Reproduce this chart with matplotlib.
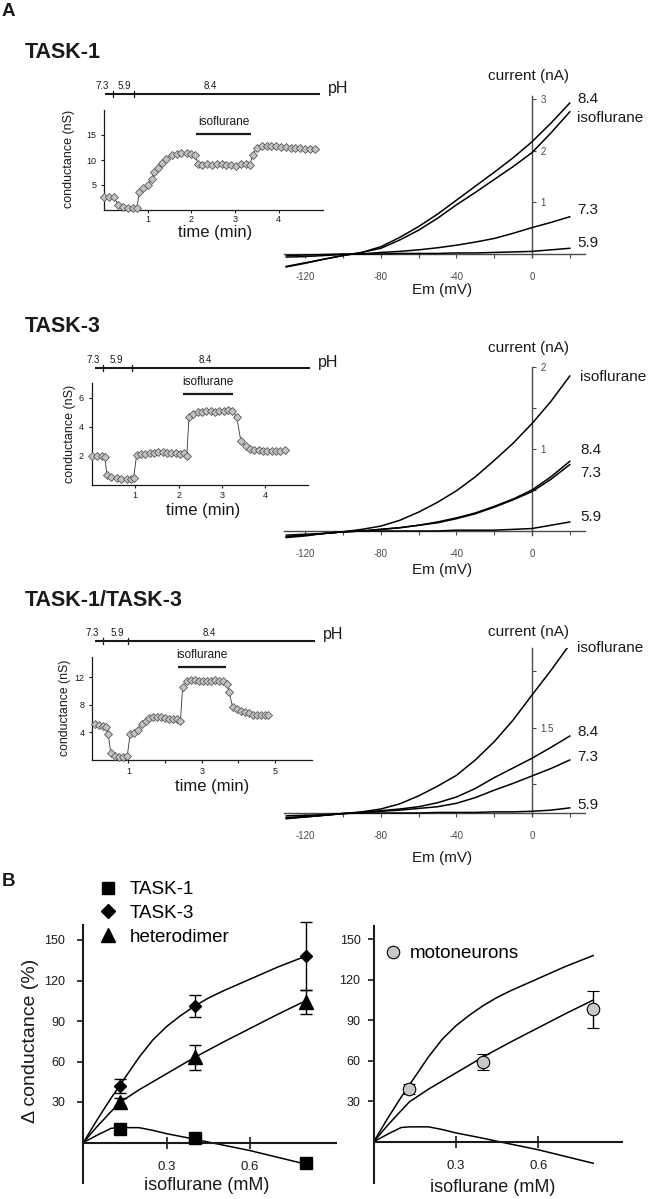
import matplotlib
matplotlib.use('Agg')
import matplotlib.pyplot as plt
from matplotlib import transforms

plt.rcParams['font.family'] = ['Liberation Sans', 'DejaVu Sans']
plt.rcParams['axes.unicode_minus'] = False

# ======================= data =======================
ph_labels = ['7.3', '5.9', '8.4']

# --- TASK-1 conductance time course (min, nS)
t1_time = [0.00, 0.11, 0.22, 0.33, 0.44, 0.55, 0.66, 0.75, 0.81, 0.90,
           1.00, 1.09, 1.15, 1.24, 1.32, 1.43, 1.55, 1.66, 1.77, 1.89,
           2.00, 2.08, 2.15, 2.25, 2.36, 2.47, 2.58, 2.69, 2.80, 2.91,
           3.02, 3.13, 3.24, 3.34, 3.40, 3.50, 3.61, 3.72, 3.83, 3.94,
           4.05, 4.16, 4.27, 4.38, 4.49, 4.60, 4.71, 4.83]
t1_g = [2.6, 2.6, 2.6, 1.0, 0.6, 0.5, 0.5, 0.4, 3.6, 4.4,
        5.1, 6.2, 7.6, 8.5, 9.5, 10.3, 11.0, 11.3, 11.5, 11.5,
        11.3, 11.0, 9.3, 9.0, 9.2, 9.1, 9.3, 9.2, 9.0, 9.1,
        8.9, 9.2, 9.3, 9.0, 11.0, 12.5, 12.9, 12.8, 12.9, 12.8,
        12.7, 12.6, 12.5, 12.5, 12.4, 12.3, 12.3, 12.2]
t1_ph_span = [0.02, 4.94]
t1_ph_switch = [0.21, 0.69]
t1_iso = [2.10, 3.37]

# --- TASK-3
t3_time = [0.00, 0.11, 0.22, 0.30, 0.34, 0.45, 0.57, 0.68, 0.80, 0.91,
           0.96, 1.03, 1.13, 1.23, 1.33, 1.43, 1.53, 1.63, 1.73, 1.83,
           1.93, 2.03, 2.13, 2.19, 2.24, 2.34, 2.44, 2.54, 2.64, 2.74,
           2.84, 2.94, 3.04, 3.14, 3.23, 3.34, 3.44, 3.55, 3.65, 3.75,
           3.85, 3.95, 4.05, 4.15, 4.25, 4.35, 4.45]
t3_g = [2.0, 2.0, 2.0, 1.95, 0.7, 0.55, 0.45, 0.4, 0.4, 0.4,
        0.45, 2.05, 2.1, 2.15, 2.2, 2.2, 2.25, 2.25, 2.2, 2.2,
        2.2, 2.15, 2.2, 2.0, 4.7, 4.9, 5.0, 5.0, 5.05, 5.05,
        5.0, 5.05, 5.1, 5.15, 5.1, 4.7, 3.0, 2.65, 2.45, 2.4,
        2.4, 2.35, 2.35, 2.35, 2.35, 2.35, 2.37]
t3_ph_span = [0.07, 5.03]
t3_ph_switch = [0.25, 0.92]
t3_iso = [2.10, 3.26]

# --- TASK-1/TASK-3
t13_time = [0.09, 0.20, 0.31, 0.40, 0.45, 0.52, 0.63, 0.74, 0.85, 0.97,
            1.05, 1.15, 1.26, 1.37, 1.47, 1.57, 1.68, 1.79, 1.90, 2.01,
            2.12, 2.23, 2.33, 2.42, 2.48, 2.59, 2.70, 2.81, 2.92, 3.03,
            3.14, 3.25, 3.36, 3.47, 3.57, 3.68, 3.75, 3.84, 3.95, 4.06,
            4.17, 4.28, 4.39, 4.50, 4.61, 4.72, 4.81]
t13_g = [5.3, 5.1, 5.0, 4.8, 3.8, 1.0, 0.6, 0.4, 0.5, 0.6,
         3.8, 3.9, 4.4, 5.2, 5.6, 6.1, 6.2, 6.3, 6.2, 6.1,
         6.0, 5.9, 5.9, 5.6, 10.6, 11.4, 11.6, 11.6, 11.5, 11.4,
         11.5, 11.5, 11.6, 11.5, 11.5, 11.0, 9.9, 7.7, 7.4, 7.1,
         6.9, 6.8, 6.6, 6.5, 6.5, 6.6, 6.5]
t13_ph_span = [0.09, 6.08]
t13_ph_switch = [0.32, 1.00]
t13_iso = [2.34, 3.65]

# --- I-V relations: membrane potential (mV) and current (nA)
em_mv = [-130, -120, -110, -100, -90, -80, -70, -60, -50, -40,
         -30, -20, -10, 0, 10, 20]
iv_names_1 = ['8.4', 'isoflurane', '7.3', '5.9']
iv1_84 = [-0.25, -0.18, -0.10, -0.03, 0.03, 0.14, 0.32, 0.53, 0.77, 1.04,
          1.31, 1.58, 1.86, 2.17, 2.53, 2.92]
iv1_iso = [-0.24, -0.17, -0.10, -0.03, 0.03, 0.11, 0.27, 0.46, 0.69, 0.95,
           1.19, 1.44, 1.69, 1.96, 2.34, 2.75]
iv1_73 = [-0.06, -0.05, -0.03, -0.01, 0.00, 0.03, 0.05, 0.08, 0.12, 0.17,
          0.23, 0.30, 0.40, 0.51, 0.61, 0.72]
iv1_59 = [-0.03, -0.02, -0.01, 0.00, 0.00, 0.00, 0.01, 0.01, 0.01, 0.02,
          0.02, 0.03, 0.04, 0.05, 0.08, 0.11]

iv_names_3 = ['isoflurane', '8.4', '7.3', '5.9']
iv3_iso = [-0.08, -0.06, -0.03, -0.01, 0.02, 0.06, 0.13, 0.23, 0.35, 0.49,
           0.66, 0.86, 1.07, 1.31, 1.58, 1.89]
iv3_84 = [-0.07, -0.05, -0.03, -0.01, 0.00, 0.02, 0.04, 0.07, 0.11, 0.16,
          0.22, 0.30, 0.39, 0.50, 0.66, 0.85]
iv3_73 = [-0.07, -0.05, -0.03, -0.01, 0.00, 0.02, 0.04, 0.07, 0.10, 0.15,
          0.21, 0.29, 0.38, 0.48, 0.63, 0.81]
iv3_59 = [-0.05, -0.04, -0.03, -0.01, 0.00, 0.00, 0.00, 0.00, 0.00, 0.01,
          0.01, 0.01, 0.02, 0.03, 0.07, 0.11]

iv_names_13 = ['isoflurane', '8.4', '7.3', '5.9']
iv13_iso = [-0.10, -0.07, -0.04, -0.01, 0.02, 0.07, 0.16, 0.30, 0.47, 0.66,
            0.93, 1.25, 1.63, 2.07, 2.50, 2.96]
iv13_84 = [-0.09, -0.07, -0.04, -0.01, 0.01, 0.04, 0.07, 0.11, 0.18, 0.28,
           0.43, 0.62, 0.79, 0.96, 1.15, 1.35]
iv13_73 = [-0.08, -0.06, -0.04, -0.01, 0.01, 0.03, 0.05, 0.08, 0.11, 0.17,
           0.27, 0.40, 0.52, 0.65, 0.78, 0.93]
iv13_59 = [-0.05, -0.04, -0.03, -0.01, 0.00, 0.00, 0.00, 0.00, 0.01, 0.01,
           0.01, 0.02, 0.02, 0.03, 0.05, 0.09]

# --- Panel B: dose response (isoflurane mM, % change in conductance)
conc_mM = [0.13, 0.40, 0.80]
task1_pct = [10, 3.5, -15]
task1_err = [2, 3, 2]
task3_pct = [42, 101, 138]
task3_err = [5, 8, 25]
het_pct = [30, 63, 104]
het_err = [3, 9, 9]
moto_pct = [39, 59, 98]
moto_err = [4, 6, 13.5]

fit_conc = [0, 0.05, 0.10, 0.13, 0.20, 0.25, 0.30, 0.35, 0.40, 0.45, 0.50, 0.60, 0.70, 0.80]
fit_task3 = [0, 17, 33, 42, 63, 76, 86, 94, 101, 107, 112, 121, 130, 138]
fit_het = [0, 12, 23, 29.5, 39, 45, 51, 57, 63, 68.5, 74, 84.5, 95, 105]
fit_task1 = [0, 5.5, 10.5, 11, 11, 9, 6.5, 4.5, 2.5, 0.3, -1.8, -6, -11, -16]

# ======================= figure =======================
W, H = 648, 1199
fig = plt.figure(figsize=(W / 100, H / 100), dpi=100)
PX = transforms.Affine2D().scale(1.0 / W, -1.0 / H).translate(0, 1) + fig.transFigure


def add_ax(x0, x1, xlim, y0, y1, ylim):
    ax = fig.add_axes([x0 / W, 1 - y1 / H, (x1 - x0) / W, (y1 - y0) / H])
    ax.set_xlim(xlim)
    ax.set_ylim(ylim)
    ax.patch.set_visible(False)
    return ax


def ptext(x, y, s, size, **kw):
    kw.setdefault('ha', 'left')
    kw.setdefault('va', 'center')
    return fig.text(x, y, s, fontsize=size, transform=PX, **kw)


INK = '#1a1a1a'


def inset(ax, t, g, xticks, xlabels, yticks, xpad, ypad):
    for s in ['top', 'right']:
        ax.spines[s].set_visible(False)
    for s in ['left', 'bottom']:
        ax.spines[s].set_linewidth(0.9)
        ax.spines[s].set_color(INK)
    ax.set_xticks(xticks, xlabels)
    ax.set_yticks(yticks)
    ax.tick_params(axis='both', direction='out', length=2.5, width=0.8,
                   labelsize=6.5, colors=INK)
    ax.tick_params(axis='x', pad=xpad)
    ax.tick_params(axis='y', pad=ypad)
    ax.plot(t, g, color='#333333', lw=0.6, marker='D', ms=4.2,
            mfc='#c2c2c2', mec='#5a5a5a', mew=0.6, clip_on=False, zorder=3)


def ph_bar(ax, span, switches, ypx, label_t, ph_x):
    bt = transforms.blended_transform_factory(ax.transData, PX)
    ax.plot(span, [ypx, ypx], transform=bt, color=INK, lw=1.5,
            clip_on=False, solid_capstyle='butt')
    for s in switches:
        ax.plot([s, s], [ypx - 3, ypx + 3], transform=bt, color=INK,
                lw=0.9, clip_on=False)
    for lt, lab in zip(label_t, ph_labels):
        ax.text(lt, ypx - 8, lab, transform=bt, fontsize=7, ha='center',
                va='center', color=INK)
    ptext(ph_x, ypx - 6, 'pH', 11.5, color=INK)


def iso_bar(ax, on_off, ypx):
    bt = transforms.blended_transform_factory(ax.transData, PX)
    ax.plot(on_off, [ypx, ypx], transform=bt, color=INK, lw=1.6,
            clip_on=False, solid_capstyle='butt')
    ax.text(sum(on_off) / 2, ypx - 12, 'isoflurane', transform=bt,
            fontsize=8.6, ha='center', va='center', color=INK)


AXC = '#4a4a4a'


def iv_axes(y0, y1, ylim, yticks, ylabels, traces, names, label_x, label_y,
            cur_y, em_y):
    ax = add_ax(284.4, 584.9, (-131, 28), y0, y1, ylim)
    ax.spines['top'].set_visible(False)
    ax.spines['left'].set_visible(False)
    ax.spines['bottom'].set_position(('data', 0))
    ax.spines['right'].set_position(('data', 0))
    ax.spines['right'].set_bounds(-0.05, ylim[1])
    for s in ['bottom', 'right']:
        ax.spines[s].set_color(AXC)
        ax.spines[s].set_linewidth(1.0)
    ax.yaxis.set_ticks_position('right')
    ax.set_yticks(yticks, ylabels)
    ax.set_xticks([-120, -80, -40, 0])
    ax.set_xticks([-100, -60, -20, 20], minor=True)
    ax.tick_params(axis='y', which='both', direction='out', length=3,
                   width=0.8, pad=3, labelsize=7, colors=AXC)
    ax.tick_params(axis='x', which='both', direction='out', length=3,
                   width=0.8, pad=10, labelsize=7, colors=AXC)
    for tr in traces:
        ax.plot(em_mv, tr, color='black', lw=1.1, zorder=3)
    for nm, ly in zip(names, label_y):
        ptext(label_x, ly, nm, 11, color=INK)
    ptext(528, cur_y, 'current (nA)', 11, ha='center', color=INK)
    ptext(442, em_y, 'Em (mV)', 11, ha='center', color=INK)
    return ax


# ---------------- Panel A ----------------
ptext(2, 12, 'A', 13.5, fontweight='bold', color=INK)

# TASK-1
ptext(25, 53, 'TASK-1', 15.5, fontweight='bold', color=INK)
a1 = add_ax(104, 322.5, (0, 5), 110, 210, (0, 20))
inset(a1, t1_time, t1_g, [1, 2, 3, 4], ['1', '2', '3', '4'], [5, 10, 15], 1.0, 3)
ph_bar(a1, t1_ph_span, t1_ph_switch, 94, [-0.05, 0.46, 2.43], 328)
iso_bar(a1, t1_iso, 134)
ptext(69, 159, 'conductance (nS)', 9, rotation=90, ha='center', color=INK)
ptext(215, 233, 'time (min)', 12, ha='center', color=INK)
iv_axes(96.3, 285.0, (-0.6, 3.05), [1, 2, 3], ['1', '2', '3'],
        [iv1_84, iv1_iso, iv1_73, iv1_59], iv_names_1, 577,
        [99, 118, 210, 243], 76, 290)

# TASK-3
ptext(25, 327, 'TASK-3', 15.5, fontweight='bold', color=INK)
a3 = add_ax(92, 308.5, (0, 5), 383, 485, (0, 7))
inset(a3, t3_time, t3_g, [1, 2, 3, 4], ['1', '2', '3', '4'], [2, 4, 6], 1.5, 3.5)
ph_bar(a3, t3_ph_span, t3_ph_switch, 368, [0.03, 0.57, 2.61], 318)
iso_bar(a3, t3_iso, 394)
ptext(70, 434, 'conductance (nS)', 9, rotation=90, ha='center', color=INK)
ptext(203, 510, 'time (min)', 12, ha='center', color=INK)
iv_axes(367.0, 563.8, (-0.4, 2.0), [0.5, 1, 1.5, 2], ['', '1', '', '2'],
        [iv3_iso, iv3_84, iv3_73, iv3_59], iv_names_3, 580,
        [377, 450, 473, 517], 348, 570)

# TASK-1/TASK-3
ptext(25, 600, 'TASK-1/TASK-3', 15.5, fontweight='bold', color=INK)
a13 = add_ax(91.7, 311.7, (0, 6), 656.7, 760, (0, 15))
inset(a13, t13_time, t13_g, [1, 2, 3, 4, 5], ['1', '', '3', '', '5'], [4, 8, 12], 2.5, 2.5)
ph_bar(a13, t13_ph_span, t13_ph_switch, 641, [0.0, 0.70, 3.22], 323)
iso_bar(a13, t13_iso, 666.7)
ptext(65, 708, 'conductance (nS)', 8.8, rotation=90, ha='center', color=INK)
ptext(212, 787, 'time (min)', 12, ha='center', color=INK)
iv_axes(647.7, 835.8, (-0.4, 2.9), [0.5, 1.5, 2.5], ['', '1.5', ''],
        [iv13_iso, iv13_84, iv13_73, iv13_59], iv_names_13, 577,
        [648, 732, 757, 805], 632, 858)

# ---------------- Panel B ----------------
ptext(2, 882, 'B', 13.5, fontweight='bold', color=INK)


def b_axes(x0, x1, y0, y1, zero_x, px_per_mM, zero_y, px_per_pct, ypad):
    xlim = ((x0 - zero_x) / px_per_mM, (x1 - zero_x) / px_per_mM)
    ylim = ((zero_y - y1) / px_per_pct, (zero_y - y0) / px_per_pct)
    ax = add_ax(x0, x1, xlim, y0, y1, ylim)
    ax.spines['top'].set_visible(False)
    ax.spines['right'].set_visible(False)
    ax.spines['bottom'].set_position(('data', 0))
    for s in ['left', 'bottom']:
        ax.spines[s].set_linewidth(1.5)
        ax.spines[s].set_color(INK)
    ax.set_xticks([0.3, 0.6])
    ax.set_yticks([30, 60, 90, 120, 150])
    ax.tick_params(axis='y', direction='out', length=4, width=1.2, pad=ypad,
                   labelsize=9, colors=INK)
    ax.tick_params(axis='x', direction='inout', length=8, width=1.2, pad=9,
                   labelsize=9.5, colors=INK)
    return ax


bL = b_axes(83.4, 336, 925, 1183, 83.4, 277.8, 1142.5, 1.35, 9)
bL.plot(fit_conc, fit_task3, color='black', lw=1.1, zorder=2)
bL.plot(fit_conc, fit_het, color='black', lw=1.1, zorder=2)
bL.plot(fit_conc, fit_task1, color='black', lw=1.1, zorder=2)
eb1 = bL.errorbar(conc_mM, task1_pct, yerr=task1_err, fmt='s', ms=8.5,
                  color='black', capsize=4.3, elinewidth=1, capthick=1,
                  zorder=4, clip_on=False)
eb3 = bL.errorbar(conc_mM, task3_pct, yerr=task3_err, fmt='D', ms=6.5,
                  color='black', capsize=4.3, elinewidth=1, capthick=1,
                  zorder=4, clip_on=False)
ebh = bL.errorbar(conc_mM, het_pct, yerr=het_err, fmt='^', ms=9.5,
                  color='black', capsize=4.3, elinewidth=1, capthick=1,
                  zorder=4, clip_on=False)
legL = bL.legend([eb1[0], eb3[0], ebh[0]], ['TASK-1', 'TASK-3', 'heterodimer'],
                 loc='upper left', bbox_to_anchor=(98.6, 881), bbox_transform=PX,
                 frameon=False, fontsize=13.5, handlelength=1.0,
                 handletextpad=0.67, labelspacing=0.35, borderpad=0,
                 borderaxespad=0, numpoints=1, markerscale=1.1)
ptext(31, 1041, '\u0394 conductance (%)', 14, rotation=90, ha='center', color=INK)
ptext(207, 1185, 'isoflurane (mM)', 13, ha='center', color=INK)

bR = b_axes(373.7, 622, 926, 1183, 373.7, 274.4, 1141.7, 1.349, 5.5)
bR.plot(fit_conc, fit_task3, color='black', lw=1.1, zorder=2)
bR.plot(fit_conc, fit_het, color='black', lw=1.1, zorder=2)
bR.plot(fit_conc, fit_task1, color='black', lw=1.1, zorder=2)
ebm = bR.errorbar(conc_mM, moto_pct, yerr=moto_err, fmt='o', ms=9,
                  mfc='#c8c8c8', mec='black', mew=0.8, ecolor='black',
                  capsize=4.3, elinewidth=1, capthick=1, zorder=4)
bR.legend([ebm[0]], ['motoneurons'], loc='upper left',
          bbox_to_anchor=(383.6, 945), bbox_transform=PX, frameon=False,
          fontsize=13.5, handlelength=1.0, handletextpad=0.41, borderpad=0,
          borderaxespad=0, numpoints=1)
ptext(493, 1187, 'isoflurane (mM)', 13, ha='center', color=INK)

fig.savefig('out.png', dpi=100)
